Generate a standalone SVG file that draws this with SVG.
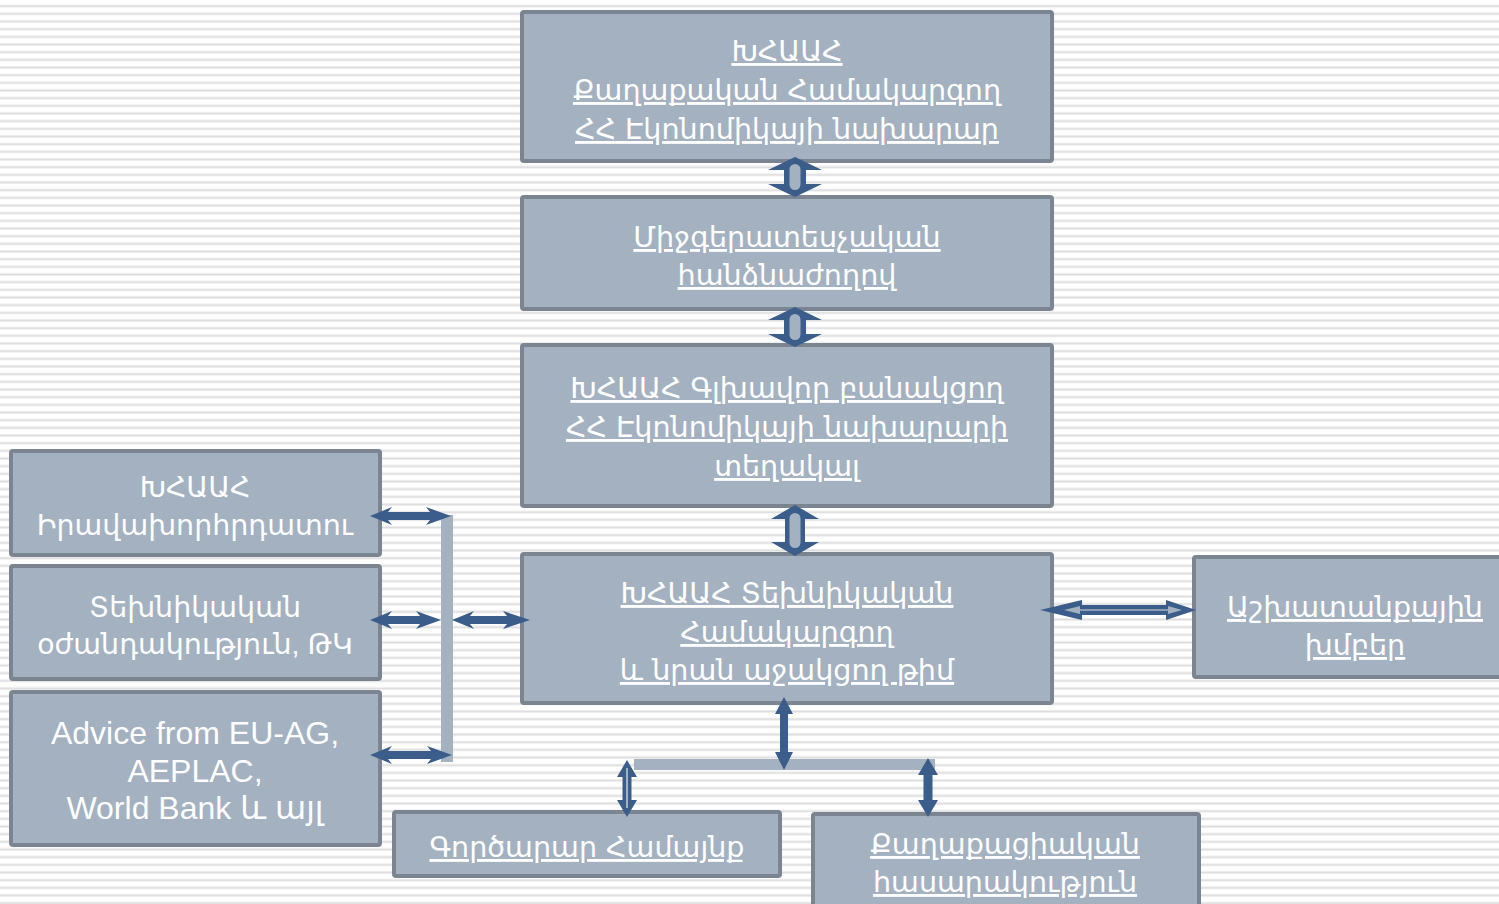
<svg xmlns="http://www.w3.org/2000/svg" width="1499" height="904" viewBox="0 0 1499 904">
<defs>
<pattern id="stripes" patternUnits="userSpaceOnUse" width="20" height="7.667" y="0">
<rect x="0" y="0" width="20" height="7.667" fill="#ffffff"/>
<rect x="0" y="4.6" width="20" height="1" fill="#ededed"/>
<rect x="0" y="5.6" width="20" height="1.4" fill="#dcdcdc"/>
<rect x="0" y="7" width="20" height="0.667" fill="#ececec"/>
</pattern>
<style>
.box{fill:#a3b1c1;stroke:#7b8591;stroke-width:4}
.t{fill:#ffffff;font-family:"DejaVu Sans",sans-serif;font-size:28.6px;text-anchor:middle;text-decoration:underline;text-decoration-thickness:2px}
.tl{fill:#ffffff;font-family:"Liberation Sans","DejaVu Sans",sans-serif;font-size:28.5px;text-anchor:middle}
.te{fill:#ffffff;font-family:"Liberation Sans","DejaVu Sans",sans-serif;font-size:32px;text-anchor:middle}
.dark{fill:#3a5d8b}
.light{fill:#a3b1c1}
</style>
</defs>
<rect width="1499" height="904" fill="url(#stripes)"/>

<g id="n1"><rect class="box" x="522" y="12" width="530" height="149" rx="2"/>
<text class="t" x="787" y="61">ԽՀԱԱՀ</text>
<text class="t" x="787" y="100">Քաղաքական Համակարգող</text>
<text class="t" x="787" y="139">ՀՀ Էկոնոմիկայի նախարար</text></g>

<g id="n2"><rect class="box" x="522" y="197" width="530" height="112" rx="2"/>
<text class="t" x="787" y="247">Միջգերատեսչական</text>
<text class="t" x="787" y="285">հանձնաժողով</text></g>

<g id="n3"><rect class="box" x="522" y="345" width="530" height="161" rx="2"/>
<text class="t" x="787" y="398">ԽՀԱԱՀ Գլխավոր բանակցող</text>
<text class="t" x="787" y="437">ՀՀ Էկոնոմիկայի նախարարի</text>
<text class="t" x="787" y="476">տեղակալ</text></g>

<g id="n4"><rect class="box" x="522" y="554" width="530" height="149" rx="2"/>
<text class="t" x="787" y="603">ԽՀԱԱՀ Տեխնիկական</text>
<text class="t" x="787" y="642">Համակարգող</text>
<text class="t" x="787" y="680">և նրան աջակցող թիմ</text></g>

<g id="n5"><rect class="box" x="1194" y="557" width="320" height="120" rx="2"/>
<text class="t" x="1355" y="617">Աշխատանքային</text>
<text class="t" x="1355" y="655">խմբեր</text></g>

<g id="n6"><rect class="box" x="11" y="451" width="369" height="104" rx="2"/>
<text class="tl" x="195" y="497">ԽՀԱԱՀ</text>
<text class="tl" x="195" y="535">Իրավախորհրդատու</text></g>

<g id="n7"><rect class="box" x="11" y="566" width="369" height="113" rx="2"/>
<text class="tl" x="195" y="617">Տեխնիկական</text>
<text class="tl" x="195" y="654">օժանդակություն, ԹԿ</text></g>

<g id="n8"><rect class="box" x="11" y="692" width="369" height="153" rx="2"/>
<text class="te" x="195" y="744">Advice from EU-AG,</text>
<text class="te" x="195" y="782">AEPLAC,</text>
<text class="te" x="195" y="819">World Bank և այլ</text></g>

<g id="n9"><rect class="box" x="394" y="812" width="386" height="64" rx="2"/>
<text class="t" x="587" y="857">Գործարար Համայնք</text></g>

<g id="n10"><rect class="box" x="813" y="814" width="386" height="100" rx="2"/>
<text class="t" x="1005" y="854">Քաղաքացիական</text>
<text class="t" x="1005" y="892">հասարակություն</text></g>

<g id="connectors">
<!-- bars -->
<rect class="light" x="441" y="515" width="12" height="247"/>
<rect class="light" x="634" y="759" width="301" height="11"/>
<!-- arrow 1-2 -->
<polygon class="dark" points="795,157 822,170 806,170 806,184 822,184 795,197 768,184 784,184 784,170 768,170"/>
<rect class="light" x="789.5" y="164" width="11" height="26" rx="5.5"/>
<!-- arrow 2-3 -->
<polygon class="dark" points="795,307 822,320 806,320 806,334 822,334 795,347 768,334 784,334 784,320 768,320"/>
<rect class="light" x="789.5" y="314" width="11" height="26" rx="5.5"/>
<!-- arrow 3-4 -->
<polygon class="dark" points="795,505 819,519 805,519 805,542 819,542 795,556 771,542 785,542 785,519 771,519"/>
<rect class="light" x="789.5" y="513" width="11" height="35" rx="5.5"/>
<!-- left horizontal arrows -->
<polygon class="dark" points="370,516 392,507 388,512 430,512 426,507 451,516 426,525 430,520 388,520 392,525"/>
<polygon class="dark" points="370,620 392,611 388,616 420,616 416,611 441,620 416,629 420,624 388,624 392,629"/>
<polygon class="dark" points="452,620 474,611 470,616 507,616 503,611 530,620 503,629 507,624 470,624 474,629"/>
<polygon class="dark" points="370,755 392,746 388,751 431,751 427,746 452,755 427,764 431,759 388,759 392,764"/>
<!-- right arrow -->
<polygon class="dark" points="1040,610 1082,600 1082,605 1166,605 1166,600 1196,610 1166,620 1166,615 1082,615 1082,620"/>
<polygon class="light" points="1064,610 1080,606 1080,609.2 1168,609.2 1168,606 1182,610 1168,614 1168,610.8 1080,610.8 1080,614"/>
<!-- bottom vertical arrows -->
<polygon class="dark" points="784,697 793,714 788,714 788,752 793,752 784,770 775,752 780,752 780,714 775,714"/>
<polygon class="dark" points="627,760 637,777 631.5,777 631.5,800 637,800 627,817 617,800 622.5,800 622.5,777 617,777"/>
<rect class="light" x="626" y="768" width="2" height="40"/>
<polygon class="dark" points="928,758 938,775 932.5,775 932.5,800 938,800 928,817 918,800 923.5,800 923.5,775 918,775"/>
</g>
</svg>
